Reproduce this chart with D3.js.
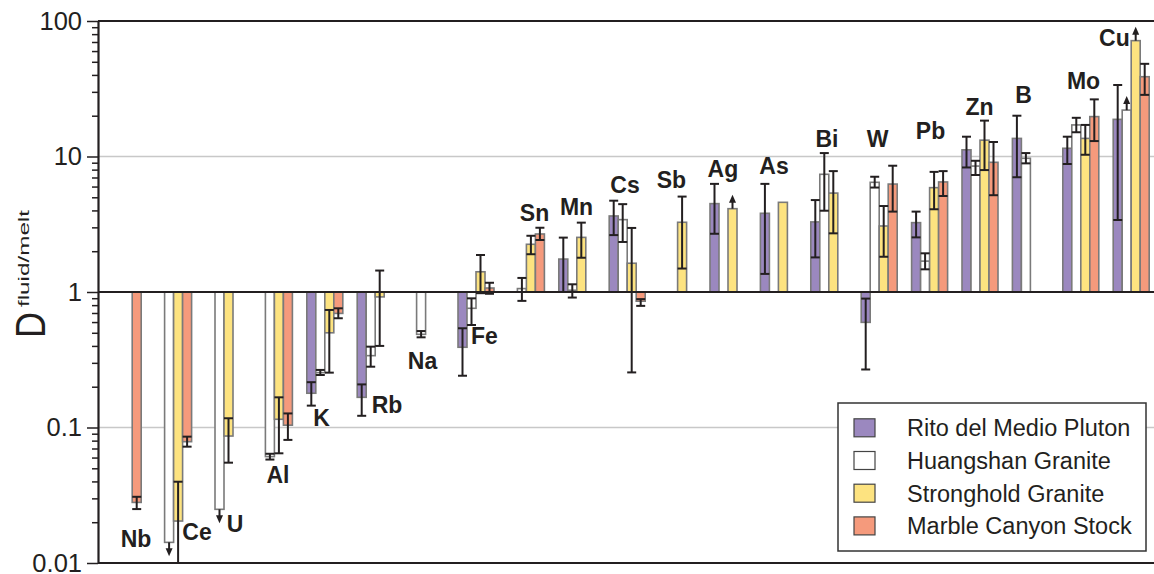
<!DOCTYPE html>
<html>
<head>
<meta charset="utf-8">
<script src="https://cdn.jsdelivr.net/npm/d3@7"></script>
<style>
  body { margin: 0; background: #fff; }
  text { font-family: "Liberation Sans", Arial, Helvetica, sans-serif; fill: #231f20; }
</style>
</head>
<body>
<svg id="chart" width="1154" height="574"></svg>
<script>
// element groups, left to right
const elements = ['Nb', 'Ce', 'U', 'Al', 'K', 'Rb', 'Na', 'Fe', 'Sn', 'Mn', 'Cs',
  'Sb', 'Ag', 'As', 'Bi', 'W', 'Pb', 'Zn', 'B', 'Mo', 'Cu'];

const series = ['Rito del Medio Pluton', 'Huangshan Granite', 'Stronghold Granite', 'Marble Canyon Stock'];
const seriesColors = ['#9b88bf', '#ffffff', '#fde380', '#f59a7c'];

// D fluid/melt values (null = no data), with error ranges
const ritoValues = [null, null, null, null, 0.179, 0.167, null, 0.391, null, 1.75, 3.64,
  null, 4.49, 3.81, 3.29, 0.597, 3.25, 11.2, 13.6, 11.5, 18.8];
const ritoLow = [null, null, null, null, 0.145, 0.122, null, 0.241, null, 1.0, 2.63,
  null, 2.69, 1.36, 1.8, 0.268, 2.53, 8.3, 7.03, 8.8, 3.4];
const ritoHigh = [null, null, null, null, 0.216, 0.208, null, 0.54, null, 2.52, 4.72,
  null, 6.28, 6.28, 4.77, 0.894, 3.92, 14.0, 20.0, 14.0, 33.7];

const huangshanValues = [null, 0.0142, 0.0249, 0.061, 0.254, 0.339, 0.487, 0.758, 1.06, 1.03, 3.42,
  null, null, null, 7.39, 6.45, 1.69, 8.5, 9.7, 17.1, 22.0];
const huangshanLow = [null, null, null, 0.058, 0.244, 0.281, 0.463, 0.571, 0.86, 0.91, 2.34,
  null, null, null, 3.98, 5.9, 1.47, 7.3, 8.9, 15.1, null];
const huangshanHigh = [null, null, null, 0.064, 0.266, 0.395, 0.515, 0.898, 1.27, 1.14, 4.45,
  null, null, null, 10.6, 7.09, 1.93, 9.3, 10.6, 19.3, null];

const strongholdValues = [null, 0.0204, 0.0865, 0.115, 0.5, 0.92, null, 1.41, 2.25, 2.53, 1.63,
  3.27, 4.12, 4.59, 5.37, 3.07, 5.89, 13.2, null, 13.6, 71.6];
const strongholdLow = [null, 0.01, 0.055, 0.0645, 0.254, 0.4, null, 0.98, 1.9, 1.79, 0.255,
  1.49, null, null, 2.71, 1.82, 4.08, 7.94, null, 10.3, null];
const strongholdHigh = [null, 0.0398, 0.117, 0.167, 0.737, 1.44, null, 1.875, 2.6, 3.25, 2.97,
  5.06, null, null, 7.8, 4.31, 7.7, 18.4, null, 17.1, null];

const marbleValues = [0.028, 0.0786, null, 0.104, 0.695, null, null, 1.07, 2.68, null, 0.855,
  null, null, null, null, 6.26, 6.49, 9.06, null, 19.7, 38.8];
const marbleLow = [0.025, 0.0722, null, 0.081, 0.64, null, null, 0.97, 2.42, null, 0.79,
  null, null, null, null, 3.92, 5.11, 5.18, null, 13.0, 28.5];
const marbleHigh = [0.0308, 0.0856, null, 0.127, 0.758, null, null, 1.17, 2.98, null, 0.886,
  null, null, null, null, 8.55, 7.8, 12.8, null, 26.4, 48.3];

// limit arrows: [element, series index, direction]
const limitArrows = [['Ce', 1, 'down'], ['U', 1, 'down'], ['Ag', 2, 'up'], ['Cu', 1, 'up'], ['Cu', 2, 'up']];

// where each element name sits: slot offset inside the group and D value of the baseline
const labelSlot = [3.42, 4.6, 3.22, 2.4, 1.63, 3.31, 1.66, 2.94, 2.9, 1.97, 1.76,
  1.32, 1.44, 1.51, 1.8, 1.81, 2.1, 1.94, 1.23, 2.3, 0.14];
const labelValue = [0.0131, 0.0148, 0.0169, 0.0389, 0.1026, 0.128, 0.27, 0.413, 3.34, 3.7, 5.38,
  5.86, 7.06, 7.43, 11.75, 11.75, 13.5, 20.2, 24.8, 31.5, 65.4];

const majorTicks = [0.01, 0.1, 1, 10, 100];
const majorTickLabels = ['0.01', '0.1', '1', '10', '100'];
const gridValues = [0.1, 10];
const blackLines = [0.01, 1, 100];

const valueTable = [ritoValues, huangshanValues, strongholdValues, marbleValues];
const lowTable = [ritoLow, huangshanLow, strongholdLow, marbleLow];
const highTable = [ritoHigh, huangshanHigh, strongholdHigh, marbleHigh];

const plotLeft = 98, plotRight = 1154, plotTop = 21, plotBottom = 563;

const svg = d3.select('#chart');

const x = d3.scaleBand()
  .domain(elements)
  .range([plotLeft, plotLeft + 21 * 50.4])
  .paddingInner(0.2857)
  .paddingOuter(0.1429);
const xs = d3.scaleBand().domain(d3.range(4)).range([0, x.bandwidth()]);
const y = d3.scaleLog().domain([0.01, 100]).range([plotBottom, plotTop]);

let records = [];
series.forEach((name, s) => {
  elements.forEach((el, i) => {
    const v = valueTable[s][i];
    if (v == null) return;
    records.push({ el, s, v, lo: lowTable[s][i], hi: highTable[s][i] });
  });
});

const barX = (d) => x(d.el) + xs(d.s);
const barMid = (d) => barX(d) + xs.bandwidth() / 2;

// grey gridlines
svg.append('g')
  .selectAll('line')
  .data(gridValues)
  .join('line')
  .attr('x1', plotLeft).attr('x2', plotRight)
  .attr('y1', (d) => y(d)).attr('y2', (d) => y(d))
  .attr('stroke', '#c8c8c8')
  .attr('stroke-width', 1.5);

// bars
svg.append('g')
  .selectAll('rect')
  .data(records)
  .join('rect')
  .attr('x', barX)
  .attr('width', xs.bandwidth())
  .attr('y', (d) => Math.min(y(d.v), y(1)))
  .attr('height', (d) => Math.abs(y(d.v) - y(1)))
  .attr('fill', (d) => seriesColors[d.s])
  .attr('stroke', '#7a7a7a')
  .attr('stroke-width', 1.6);

// error bars
const errG = svg.append('g')
  .attr('stroke', '#231f20')
  .attr('stroke-width', 2);
const withErr = records.filter((d) => d.lo != null);
errG.selectAll('line.stem')
  .data(withErr)
  .join('line')
  .attr('class', 'stem')
  .attr('x1', barMid).attr('x2', barMid)
  .attr('y1', (d) => y(d.lo)).attr('y2', (d) => y(d.hi));
const caps = withErr.flatMap((d) => [{ d, v: d.lo }, { d, v: d.hi }]);
errG.selectAll('line.cap')
  .data(caps)
  .join('line')
  .attr('class', 'cap')
  .attr('x1', (c) => barMid(c.d) - 4.5).attr('x2', (c) => barMid(c.d) + 4.5)
  .attr('y1', (c) => y(c.v)).attr('y2', (c) => y(c.v));

// limit arrows
const arrowG = svg.append('g');
limitArrows.forEach(([el, s, dir]) => {
  const d = records.find((r) => r.el === el && r.s === s);
  const cx = barMid(d);
  const y0 = y(d.v);
  const sign = dir === 'up' ? -1 : 1;
  const y1 = y0 + sign * 14;
  arrowG.append('line')
    .attr('x1', cx).attr('x2', cx)
    .attr('y1', y0).attr('y2', y1 - sign * 6)
    .attr('stroke', '#231f20').attr('stroke-width', 2);
  arrowG.append('path')
    .attr('d', `M${cx - 3.5},${y1 - sign * 8}L${cx + 3.5},${y1 - sign * 8}L${cx},${y1}Z`)
    .attr('fill', '#231f20');
});

// black reference lines (100, 1, 0.01)
svg.append('g')
  .selectAll('line')
  .data(blackLines)
  .join('line')
  .attr('x1', plotLeft).attr('x2', plotRight)
  .attr('y1', (d) => y(d)).attr('y2', (d) => y(d))
  .attr('stroke', '#231f20')
  .attr('stroke-width', 2.2);

// y axis: minor ticks then major ticks
const minorTicks = y.ticks().filter((t) => !majorTicks.some((m) => Math.abs(m - t) / m < 1e-6));
const minorAxis = svg.append('g')
  .attr('transform', `translate(${plotLeft},0)`)
  .call(d3.axisLeft(y).tickValues(minorTicks).tickSize(6).tickSizeOuter(0).tickFormat(''));
minorAxis.select('.domain').remove();
minorAxis.selectAll('line').attr('stroke', '#231f20').attr('stroke-width', 1.5);

const majorAxis = svg.append('g')
  .attr('transform', `translate(${plotLeft},0)`)
  .call(d3.axisLeft(y).tickValues(majorTicks).tickSize(11).tickSizeOuter(0).tickPadding(5)
    .tickFormat((d, i) => majorTickLabels[i]));
majorAxis.select('.domain').attr('stroke', '#231f20').attr('stroke-width', 2.2);
majorAxis.selectAll('line').attr('stroke', '#231f20').attr('stroke-width', 1.5);
majorAxis.selectAll('text')
  .attr('font-size', '25.5px')
  .attr('font-family', '"Liberation Sans", Arial, sans-serif')
  .attr('fill', '#231f20');

// y axis title
svg.append('text')
  .attr('transform', 'translate(45,338) rotate(-90)')
  .attr('font-size', '43px')
  .attr('textLength', 26)
  .attr('lengthAdjust', 'spacingAndGlyphs')
  .text('D');
svg.append('text')
  .attr('transform', 'translate(29,307) rotate(-90)')
  .attr('font-size', '15px')
  .attr('textLength', 97)
  .attr('lengthAdjust', 'spacingAndGlyphs')
  .text('fluid/melt');

// element labels
svg.append('g')
  .selectAll('text')
  .data(elements)
  .join('text')
  .attr('x', (d, i) => x(d) + labelSlot[i] * xs.bandwidth())
  .attr('y', (d, i) => y(labelValue[i]))
  .attr('text-anchor', 'middle')
  .attr('font-size', '23px')
  .attr('font-weight', 'bold')
  .text((d) => d);

// legend
const legend = svg.append('g');
legend.append('rect')
  .attr('x', 838).attr('y', 403)
  .attr('width', 308).attr('height', 148)
  .attr('fill', '#fff')
  .attr('stroke', '#333')
  .attr('stroke-width', 1.5);
const rows = legend.selectAll('g.row')
  .data(series)
  .join('g')
  .attr('class', 'row')
  .attr('transform', (d, i) => `translate(854,${427.8 + i * 32.7})`);
rows.append('rect')
  .attr('x', 0).attr('y', -9)
  .attr('width', 21).attr('height', 18)
  .attr('fill', (d, i) => seriesColors[i])
  .attr('stroke', '#444')
  .attr('stroke-width', 1.2);
rows.append('text')
  .attr('x', 53).attr('y', 8.4)
  .attr('font-size', '23.5px')
  .text((d) => d);
</script>
</body>
</html>
